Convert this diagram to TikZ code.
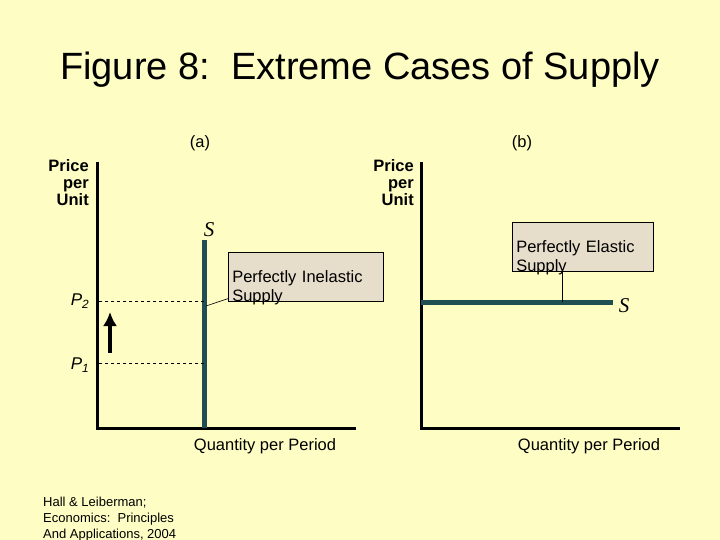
\documentclass[tikz,border=0pt]{standalone}
\usepackage{fontspec}
\setmainfont{Liberation Sans}
\usetikzlibrary{arrows.meta}
\begin{document}
\begin{tikzpicture}[x=1pt,y=-1pt,
  axis/.style={line width=3pt},
  curve/.style={line width=5pt,draw=curvecol},
  dashln/.style={dashed,line width=0.6pt},
  lbl/.style={font=\fontsize{16.5}{18}\selectfont,inner sep=0},
  box/.style={draw,fill=boxfill,line width=0.6pt,align=left,font=\fontsize{16.5}{19}\selectfont,inner xsep=4pt,inner ysep=4pt,anchor=north west,text width=#1,minimum height=49pt,text depth=0pt},
  ]
\definecolor{bg}{HTML}{FDFDC4}
\definecolor{curvecol}{HTML}{1F4F52}
\definecolor{boxfill}{HTML}{E6DDCB}
\useasboundingbox (0,0) rectangle (720,540);
\fill[bg] (0,0) rectangle (720,540);
\begin{scope}
\clip (0,0) rectangle (720,540);
\node[font=\fontsize{38}{40}\selectfont] (title) at (360,70) {Figure 8:\ \ Extreme Cases of Supply};
\node[lbl] (la) at (200,143) {(a)};
\node[lbl] (lb) at (522,143) {(b)};
% left panel
\node[lbl,align=right,anchor=north east,font=\bfseries\fontsize{16.5}{17}\selectfont] (pa) at (89,159) {Price\\per\\Unit};
\coordinate (oa) at (97,428);
\coordinate (ta) at (97,162);
\coordinate (ea) at (356,428);
\draw[axis] (ta) -- (oa) -- (ea);
\coordinate (sa1) at (204,240);
\coordinate (sa0) at (204,428);
\draw[curve,line cap=butt] (sa1) -- (sa0);
\coordinate (p2l) at (99,301); \coordinate (p2r) at (204,301);
\coordinate (p1l) at (99,363); \coordinate (p1r) at (204,363);
\draw[dashln] (p2l) -- (p2r);
\draw[dashln] (p1l) -- (p1r);
\node[lbl,font=\itshape\fontsize{17}{18}\selectfont] (p2) at (80,301) {P\textsubscript{2}};
\node[lbl,font=\itshape\fontsize{17}{18}\selectfont] (p1) at (80,365) {P\textsubscript{1}};
\coordinate (ar0) at (110,353); \coordinate (ar1) at (110,312);
\draw[line width=4pt,-{Latex[length=14pt,width=14pt]}] (ar0) -- (ar1);
\node[font=\itshape\fontsize{21}{22}\selectfont,inner sep=0] (sa) at (209,230) {\fontspec{Liberation Serif}S};
\node[box=147pt] (ba) at (228,252) {Perfectly Inelastic\\Supply};
\coordinate (ca) at (206,306);
\draw[line width=0.6pt] (ba.south west) ++(0,-3) -- (ca);
\node[lbl] (qa) at (265,446) {Quantity per Period};
% right panel
\node[lbl,align=right,anchor=north east,font=\bfseries\fontsize{16.5}{17}\selectfont] (pb) at (414,159) {Price\\per\\Unit};
\coordinate (ob) at (421,428);
\coordinate (tb) at (421,162);
\coordinate (eb) at (680,428);
\draw[axis] (tb) -- (ob) -- (eb);
\coordinate (sb0) at (421,302);
\coordinate (sb1) at (613,302);
\draw[curve] (sb0) -- (sb1);
\node[font=\itshape\fontsize{21}{22}\selectfont,inner sep=0] (sb) at (624,306) {\fontspec{Liberation Serif}S};
\node[box=133pt] (bb) at (512,222) {Perfectly Elastic\\Supply};
\coordinate (cb) at (562,302);
\draw[line width=0.6pt] (bb.south west -| cb) -- (cb);
\node[lbl] (qb) at (589,446) {Quantity per Period};
% footnote
\node[anchor=north west,align=left,inner sep=0,font=\fontsize{13}{16}\selectfont] (fn) at (43,497) {Hall \& Leiberman;\\Economics:\ \ Principles\\And Applications, 2004};
\end{scope}
\end{tikzpicture}
\end{document}
